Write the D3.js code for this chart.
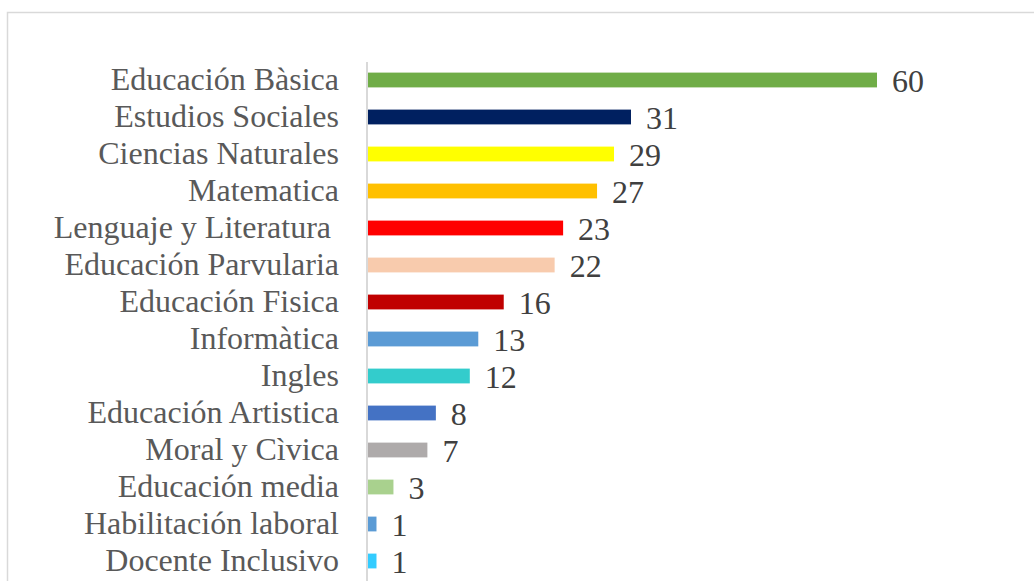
<!DOCTYPE html>
<html>
<head>
<meta charset="utf-8">
<script src="https://cdn.jsdelivr.net/npm/d3@7"></script>
<style>
  body { margin: 0; background: #fff; }
  svg text { font-family: "Liberation Serif", "Times New Roman", serif; white-space: pre; }
</style>
</head>
<body>
<div id="chart"></div>
<script>
// chart data
const categories = [
  "Educación Bàsica", "Estudios Sociales", "Ciencias Naturales", "Matematica",
  "Lenguaje y Literatura ", "Educación Parvularia", "Educación Fisica", "Informàtica",
  "Ingles", "Educación Artistica", "Moral y Cìvica", "Educación media",
  "Habilitación laboral", "Docente Inclusivo"
];
const values = [60, 31, 29, 27, 23, 22, 16, 13, 12, 8, 7, 3, 1, 1];
const colors = [
  "#70AD47", "#002060", "#FFFF00", "#FFC000", "#FF0000", "#F8CBAD", "#C00000",
  "#5B9BD5", "#33CCCC", "#4472C4", "#AEAAAA", "#A9D18E", "#5B9BD5", "#33CCFF"
];

const width = 1034;
const height = 581;
const margin = {left: 368, right: 157, top: 62, bottom: 0};

const svg = d3.select("#chart")
  .append("svg")
  .attr("width", width)
  .attr("height", height);

// outer chart border (runs off the right and bottom of the picture)
svg.append("rect")
  .attr("x", 7.5)
  .attr("y", 12.5)
  .attr("width", width)
  .attr("height", height)
  .attr("fill", "none")
  .attr("stroke", "#d9d9d9")
  .attr("stroke-width", 1.5);

const x = d3.scaleLinear()
  .domain([0, 60])
  .range([margin.left, width - margin.right]);

const y = d3.scaleBand()
  .domain(d3.range(categories.length))
  .range([61.5, 61.5 + 37 * categories.length])
  .paddingInner(0.6)
  .paddingOuter(0.3);

// bars
svg.selectAll(".bar")
  .data(values)
  .enter()
  .append("rect")
    .attr("class", "bar")
    .attr("x", x(0))
    .attr("y", (d, i) => y(i))
    .attr("width", d => x(d) - x(0))
    .attr("height", y.bandwidth())
    .attr("fill", (d, i) => colors[i]);

// category axis
const axis = svg.append("g")
  .attr("transform", `translate(${margin.left - 1},0)`)
  .call(d3.axisLeft(y).tickSize(0).tickPadding(28).tickFormat(i => categories[i]));

axis.select(".domain")
  .attr("d", `M0,${margin.top}V${height}`)
  .attr("stroke", "#d9d9d9")
  .attr("stroke-width", 2);

axis.selectAll("text")
  .attr("font-size", "32px")
  .attr("fill", "#595959")
  .attr("dy", "0.32em");

// value labels
svg.selectAll(".label")
  .data(values)
  .enter()
  .append("text")
    .attr("class", "label")
    .attr("x", d => x(d) + 15)
    .attr("y", (d, i) => y(i) + y.bandwidth() / 2 + 11.5)
    .attr("font-size", "32px")
    .attr("fill", "#404040")
    .text(d => d);
</script>
</body>
</html>
